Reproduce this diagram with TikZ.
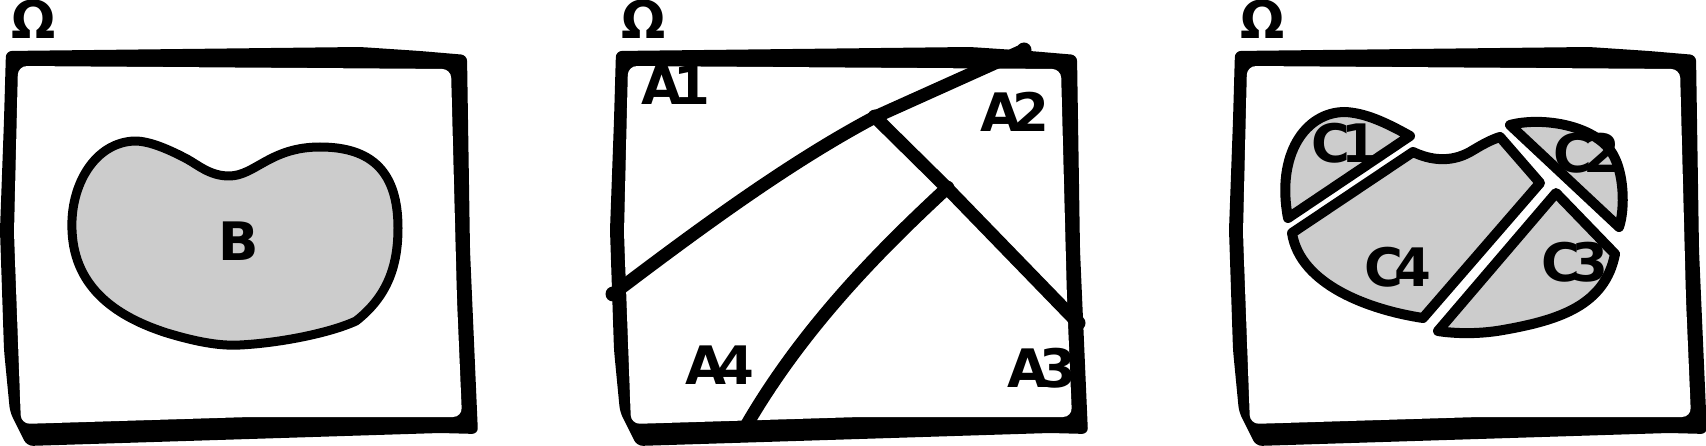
\documentclass[tikz,border=0pt]{standalone}
\usepackage{fontspec}
\setmainfont{DejaVu Sans}
\usetikzlibrary{calc, positioning}
\definecolor{blobgray}{HTML}{CCCCCC}

% one hand-drawn frame with its Omega, shifted by #1
\newcommand{\omegaframe}[2]{%
  \begin{scope}[xshift=#1pt]
    \fill[black, rounded corners=6pt] (27,446) -- (10,412) -- (4,350) -- (0,230) -- (4,120)
      -- (6,51) -- (360,47) -- (420,51) -- (467,55) -- (470,250) -- (478,434) -- (440,433) -- cycle;
    \fill[white, rounded corners=9pt] (18,66) -- (451,69) -- (457,300) -- (462,417)
      -- (250,417) -- (21,424) -- (14,233) -- cycle;
    \node[omega] (#2) at (34,19) {Ω};
  \end{scope}}

\begin{document}
\begin{tikzpicture}[
  x=1pt, y=-1pt,
  omega/.style={font=\fontsize{52}{52}\selectfont\bfseries, inner sep=0pt},
  region/.style={font=\fontsize{53}{53}\selectfont\bfseries\addfontfeature{LetterSpace=-16}, inner sep=0pt},
  cut/.style={line width=13pt, line cap=round, line join=round},
  joint/.style={circle, fill, inner sep=0pt, minimum size=15pt},
  piece/.style={fill=blobgray, draw=black, line width=10pt, line join=round},
]
\useasboundingbox (0,0) rectangle (1706,446);

\omegaframe{0}{om1}
\omegaframe{610}{om2}
\omegaframe{1229}{om3}

% panel 1: the set B
\filldraw[piece, line width=9pt] (229,176) .. controls (210,176) and (198,165) .. (187,159)
  .. controls (170,150) and (150,141) .. (135,141)
  .. controls (95,142) and (70,185) .. (72,230)
  .. controls (74,290) and (120,318) .. (167,333)
  .. controls (200,343) and (222,346) .. (240,345)
  .. controls (280,343) and (330,333) .. (356,321)
  .. controls (388,296) and (398,265) .. (398,228)
  .. controls (398,172) and (372,147) .. (320,147)
  .. controls (270,147) and (255,176) .. (229,176) -- cycle;
\node[region] (B) at (239,241) {B};

% panel 2: the partition A1..A4
\coordinate (l1) at (613,294);
\coordinate (j1) at (875,117);
\coordinate (t1) at (1024,50);
\coordinate (j2) at (947,188);
\coordinate (r1) at (1078,323);
\coordinate (b1) at (742,433);
\draw[cut] (l1) .. controls (700,228) and (790,162) .. (j1) -- (t1);
\draw[cut] (j1) -- (j2) -- (r1);
\draw[cut] (j2) .. controls (880,250) and (800,330) .. (b1);
\foreach \p in {l1, j1, t1, j2, r1, b1}
  \node[joint] at (\p) {};

\node[region] (A1) at (676,85) {A1};
\node[region] (A2) at (1015,112) {A2};
\node[region] (A3) at (1042,368) {A3};
\node[region] (A4) at (720,365) {A4};

% panel 3: B cut into C1..C4
\filldraw[piece] (1288,218) -- (1410,136) .. controls (1385,122) and (1365,113) .. (1345,112)
  .. controls (1305,112) and (1276,155) .. (1288,218) -- cycle;
\filldraw[piece] (1292,233) -- (1413,152) .. controls (1430,160) and (1450,163) .. (1470,152)
  .. controls (1480,146) and (1490,140) .. (1500,137) -- (1540,183) -- (1423,318)
  .. controls (1370,310) and (1300,285) .. (1292,233) -- cycle;
\filldraw[piece] (1510,125) .. controls (1540,117) and (1590,124) .. (1610,150)
  .. controls (1625,170) and (1625,210) .. (1619,227) -- cycle;
\filldraw[piece] (1556,193) -- (1615,254) .. controls (1605,305) and (1560,320) .. (1503,330)
  .. controls (1475,335) and (1450,333) .. (1438,331) -- cycle;

\node[region] (C1) at (1345,143) {C1};
\node[region] (C2) at (1587,153) {C2};
\node[region] (C3) at (1575,262) {C3};
\node[region] (C4) at (1398,267) {C4};
\end{tikzpicture}
\end{document}
